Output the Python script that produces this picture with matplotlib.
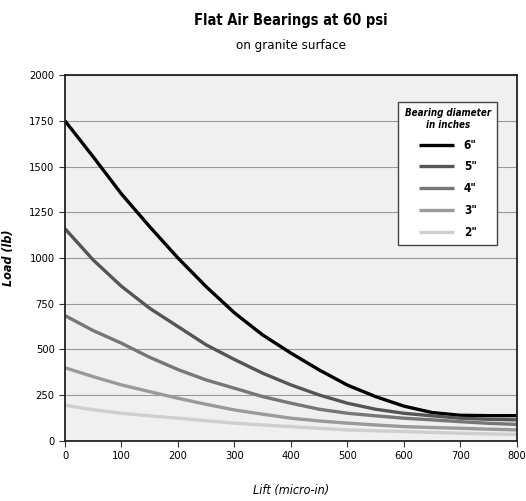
import numpy as np
import matplotlib
matplotlib.use("Agg")
import matplotlib.pyplot as plt

# values
lift = [0, 50, 100, 150, 200, 250, 300, 350, 400, 450, 500, 550, 600, 650, 700, 750, 800]
load_6in = [1750, 1553, 1350, 1171, 1000, 843, 700, 579, 480, 388, 305, 242, 190, 155, 140, 138, 138]
load_5in = [1160, 989, 845, 725, 625, 525, 445, 370, 306, 251, 206, 173, 151, 137, 124, 118, 115]
load_4in = [685, 603, 534, 457, 390, 333, 288, 242, 206, 173, 151, 137, 124, 115, 105, 96, 90]
load_3in = [400, 351, 306, 269, 233, 200, 169, 146, 124, 109, 97, 87, 78, 73, 69, 64, 60]
load_2in = [195, 170, 151, 137, 124, 110, 97, 87, 78, 69, 60, 55, 51, 46, 42, 38, 35]

labels = ['6"', '5"', '4"', '3"', '2"']
series = [load_6in, load_5in, load_4in, load_3in, load_2in]
colors = ["#000000", "#555555", "#777777", "#9a9a9a", "#cfcfcf"]

plt.rcParams['font.family'] = ['DejaVu Sans']
plt.rcParams['font.stretch'] = 'condensed'

fig = plt.figure(figsize=(5.26, 5.01), dpi=100)
ax = fig.add_axes([0.1236, 0.120, 0.859, 0.730])
ax.set_facecolor("#f0f0f0")

for ys, c, lab in zip(series, colors, labels):
    ax.plot(lift, ys, color=c, lw=2.4, label=lab, solid_capstyle="butt")

ax.set_xlim(0, 800)
ax.set_ylim(0, 2000)
ax.set_xticks(range(0, 801, 100))
ax.set_yticks(range(0, 2001, 250))
ax.yaxis.grid(True, color="#9a9a9a", lw=0.8)
ax.set_axisbelow(True)
ax.tick_params(direction="out", length=4, labelsize=8, color="#333333")
for s in ax.spines.values():
    s.set_color("#222222")
    s.set_linewidth(1.3)

ax.set_xlabel("Lift (micro-in)", style="italic", fontsize=9, labelpad=16)
ax.set_ylabel("Load (lb)", style="italic", fontweight="bold", fontsize=9, labelpad=10)

fig.text(0.553, 0.960, "Flat Air Bearings at 60 psi", ha="center", va="center",
         fontsize=10.5, fontweight="bold")
fig.text(0.553, 0.910, "on granite surface", ha="center", va="center", fontsize=9.5)

leg = ax.legend(title="Bearing diameter\nin inches", loc="upper right",
                bbox_to_anchor=(0.97, 0.943), fancybox=False, framealpha=1,
                edgecolor="#444444", fontsize=8.5, handlelength=3.0,
                labelspacing=0.74, borderpad=0.55, alignment="center")
leg.get_title().set_fontstyle("italic")
leg.get_title().set_fontweight("bold")
leg.get_title().set_fontsize(7)
leg.get_title().set_multialignment("center")
for t in leg.get_texts():
    t.set_fontweight("bold")

fig.savefig("out.png", dpi=100)
